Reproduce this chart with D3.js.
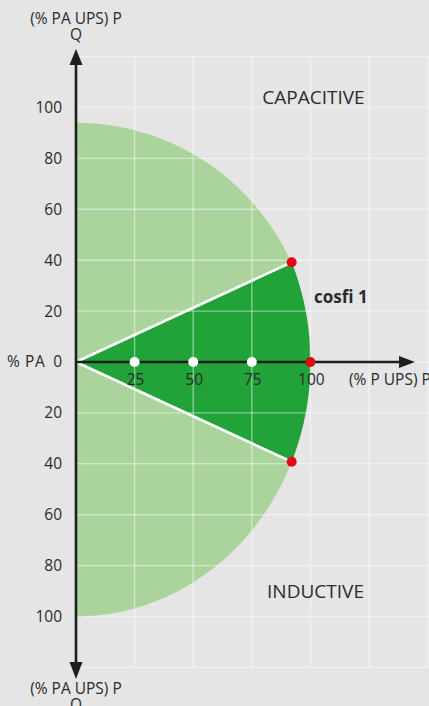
<!DOCTYPE html>
<html><head><meta charset="utf-8">
<script src="https://cdn.jsdelivr.net/npm/d3@7"></script>
<style>
html,body{margin:0;padding:0;background:#e5e5e5;}
svg{display:block;}
text{font-family:"Open Sans",sans-serif;fill:#2b2b2b;}
</style></head>
<body>
<svg id="c" width="429" height="706"></svg>
<script>
// ---- data ----
const yTickLabels = [100, 80, 60, 40, 20, 0, -20, -40, -60, -80, -100];
const xTickLabels = [25, 50, 75, 100];
const xGrid = [25, 50, 75, 100, 125, 150];
const yGrid = [-120, -100, -80, -60, -40, -20, 0, 20, 40, 60, 80, 100, 120];
const whitePoints = [25, 50, 75];
const capacitiveLimit = { rx: 101, ry: 94 };   // upper (capacitive) boundary, % units
const inductiveLimit = 100;                   // lower (inductive) boundary radius
const fullPower = 100;                        // cos phi = 1 reach
const cosfi = 0.92;                           // red points at cos phi 0.92

const svg = d3.select("#c");
const x = d3.scaleLinear().domain([0, 150]).range([76, 427.6]);
const y = d3.scaleLinear().domain([-120, 120]).range([667.4, 56.6]);

// light green region
const phiR = Math.acos(cosfi);
const redPts = [[fullPower * cosfi, fullPower * Math.sin(phiR)], [fullPower * cosfi, -fullPower * Math.sin(phiR)]];
const light = [];
light.push([0, 0]);
for (let i = 0; i <= 60; i++) {
  const xv = redPts[0][0] * i / 60;
  light.push([xv, capacitiveLimit.ry * Math.sqrt(1 - (xv / capacitiveLimit.rx) ** 2)]);
}
light.push(redPts[0]);
for (let i = 0; i <= 60; i++) {
  const a = phiR - 2 * phiR * i / 60;
  light.push([fullPower * Math.cos(a), fullPower * Math.sin(a)]);
}
for (let i = 0; i <= 60; i++) {
  const a = -phiR - (Math.PI / 2 - phiR) * i / 60;
  light.push([inductiveLimit * Math.cos(a), inductiveLimit * Math.sin(a)]);
}
const line = d3.line().x(d => x(d[0])).y(d => y(d[1]));
svg.append("path").attr("d", line(light) + "Z").attr("fill", "#aad49b");

// dark green sector
const dark = [[0, 0]];
for (let i = 0; i <= 60; i++) {
  const a = phiR - 2 * phiR * i / 60;
  dark.push([fullPower * Math.cos(a), fullPower * Math.sin(a)]);
}
svg.append("path").attr("d", line(dark) + "Z").attr("fill", "#22a33a");

// grid lines on top
const g2 = svg.append("g").attr("stroke", "#ffffff").attr("stroke-opacity", 0.45).attr("stroke-width", 1.4);
xGrid.forEach(v => g2.append("line").attr("x1", x(v)).attr("x2", x(v)).attr("y1", y(120)).attr("y2", y(-120)));
yGrid.forEach(v => g2.append("line").attr("x1", x(0)).attr("x2", 429).attr("y1", y(v)).attr("y2", y(v)));

// white cos-phi lines
redPts.forEach(p => svg.append("line").attr("x1", x(0)).attr("y1", y(0)).attr("x2", x(p[0])).attr("y2", y(p[1]))
  .attr("stroke", "#fff").attr("stroke-width", 2.6));

// axes
const ax = svg.append("g");
ax.append("line").attr("x1", x(0)).attr("x2", x(0)).attr("y1", 60).attr("y2", 666).attr("stroke", "#1e1e1e").attr("stroke-width", 2.6);
ax.append("line").attr("x1", x(0)).attr("x2", 402).attr("y1", y(0)).attr("y2", y(0)).attr("stroke", "#1e1e1e").attr("stroke-width", 2.6);
const X0 = x(0), Y0 = y(0);
ax.append("path").attr("d", `M${X0},49 L${X0 - 6.5},65 L${X0 + 6.5},65 Z`).attr("fill", "#1e1e1e");
ax.append("path").attr("d", `M${X0},679 L${X0 - 6.5},662 L${X0 + 6.5},662 Z`).attr("fill", "#1e1e1e");
ax.append("path").attr("d", `M415,${Y0} L399,${Y0 - 6} L399,${Y0 + 6} Z`).attr("fill", "#1e1e1e");

// points
whitePoints.forEach(v => svg.append("circle").attr("cx", x(v)).attr("cy", y(0)).attr("r", 5).attr("fill", "#fff"));
[[fullPower, 0], ...redPts].forEach(p => svg.append("circle").attr("cx", x(p[0])).attr("cy", y(p[1])).attr("r", 5).attr("fill", "#e30613"));

// tick labels
const fs = 15.5;
yTickLabels.forEach(v => {
  svg.append("text").attr("x", 62).attr("y", y(v)).attr("dy", "0.35em").attr("text-anchor", "end")
    .attr("font-size", fs).text(Math.abs(v));
});
svg.append("text").attr("x", 7).attr("y", y(0)).attr("dy", "0.35em").attr("font-size", fs).attr("letter-spacing", 0.6).text("% PA");
xTickLabels.forEach(v => {
  svg.append("text").attr("x", x(v) + 1).attr("y", y(0) + 23).attr("text-anchor", "middle").attr("font-size", fs).text(v);
});
svg.append("text").attr("x", 349).attr("y", y(0) + 23).attr("font-size", fs).text("(% P UPS) P");

// axis titles
svg.append("text").attr("x", X0).attr("y", 24).attr("text-anchor", "middle").attr("font-size", fs).text("(% PA UPS) P");
svg.append("text").attr("x", X0).attr("y", 40).attr("text-anchor", "middle").attr("font-size", fs).text("Q");
svg.append("text").attr("x", X0).attr("y", 694).attr("text-anchor", "middle").attr("font-size", fs).text("(% PA UPS) P");
svg.append("text").attr("x", X0).attr("y", 710).attr("text-anchor", "middle").attr("font-size", fs).text("Q");

// region labels
svg.append("text").attr("x", 313.5).attr("y", 104).attr("text-anchor", "middle").attr("font-size", 19).text("CAPACITIVE");
svg.append("text").attr("x", 315.5).attr("y", 598).attr("text-anchor", "middle").attr("font-size", 19).text("INDUCTIVE");
svg.append("text").attr("x", 314).attr("y", 303).attr("font-size", 17).attr("font-weight", "bold").text("cosfi 1");
</script>
</body></html>
